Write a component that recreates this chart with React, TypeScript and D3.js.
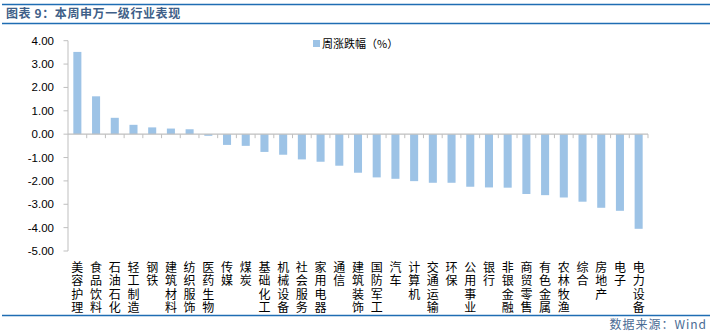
import React from "react";
import * as d3 from "d3";

const categories = ["美容护理","食品饮料","石油石化","轻工制造","钢铁","建筑材料","纺织服饰","医药生物","传媒","煤炭","基础化工","机械设备","社会服务","家用电器","通信","建筑装饰","国防军工","汽车","计算机","交通运输","环保","公用事业","银行","非银金融","商贸零售","有色金属","农林牧渔","综合","房地产","电子","电力设备"];
const values = [3.52,1.62,0.70,0.40,0.29,0.24,0.21,-0.07,-0.46,-0.50,-0.76,-0.88,-1.08,-1.18,-1.35,-1.65,-1.85,-1.91,-2.01,-2.08,-2.08,-2.25,-2.28,-2.29,-2.56,-2.61,-2.71,-2.89,-3.15,-3.28,-4.05];
const yTicks = [4,3,2,1,0,-1,-2,-3,-4,-5];
const seriesName = "周涨跌幅（%）";
const title = "图表 9：本周申万一级行业表现";
const source = "数据来源：Wind";

export default function App() {
  const W = 714, H = 336;
  const x = d3.scaleBand<string>().domain(categories).range([68, 648]).paddingInner(0.57).paddingOuter(0.285);
  const xb = d3.scaleBand<string>().domain(categories).range([68, 648]);
  const y = d3.scaleLinear().domain([-5, 4]).range([251, 40.7]);
  const font = "'Liberation Sans', Arial, sans-serif";
  const cjk = "'Noto Sans CJK SC', sans-serif";
  return (
    <div style={{ position: "absolute", left: 0, top: 0 }}>
      <svg width={W} height={H} style={{ display: "block", background: "#fff" }}>
        <line x1={2} x2={710} y1={4.5} y2={4.5} stroke="#1f6db3" strokeWidth={1.5} />
        <text x={6} y={18} fontFamily={cjk} fontSize={12} fill="#3f5f88" fontWeight={600} letterSpacing={0.6}>{title}</text>
        <line x1={2} x2={710} y1={23.5} y2={23.5} stroke="#1f6db3" strokeWidth={1.5} />

        {yTicks.map((t) => (
          <g key={t}>
            <line x1={63.5} x2={68} y1={y(t)} y2={y(t)} stroke="#bfbfbf" />
            <text x={54} y={y(t) + 4} textAnchor="end" fontFamily={font} fontSize={11.5} fill="#000">{t.toFixed(2)}</text>
          </g>
        ))}
        <line x1={68} x2={68} y1={y(4)} y2={y(-5)} stroke="#bfbfbf" />

        {categories.map((c, i) => {
          const v = values[i];
          return (
            <rect key={c} x={x(c)} width={x.bandwidth()} y={y(Math.max(0, v))} height={Math.abs(y(v) - y(0))} fill="#9dc3e6" />
          );
        })}
        <line x1={68} x2={648} y1={y(0)} y2={y(0)} stroke="#bfbfbf" strokeWidth={1.2} />
        {categories.map((c) => (
          <line key={"t" + c} x1={(xb(c) as number) + xb.bandwidth()} x2={(xb(c) as number) + xb.bandwidth()} y1={y(0)} y2={y(0) + 4} stroke="#bfbfbf" />
        ))}

        {categories.map((c) => {
          const cx = (xb(c) as number) + xb.bandwidth() / 2;
          return (
            <text key={"l" + c} x={cx} y={261.5} fontFamily={cjk} fontSize={12} fill="#000"
              style={{ writingMode: "vertical-rl" as any, letterSpacing: "1.4px" }}>{c}</text>
          );
        })}

        <rect x={313} y={40} width={7} height={7} fill="#9dc3e6" />
        <text x={322} y={47.5} fontFamily={cjk} fontSize={11} fill="#000">{seriesName}</text>

        <line x1={2} x2={710} y1={315.5} y2={315.5} stroke="#1f6db3" strokeWidth={1.5} />
        <text x={707} y={329} textAnchor="end" fontFamily={cjk} fontSize={12} fill="#4a6b94" letterSpacing={1}>{source}</text>
      </svg>
    </div>
  );
}
